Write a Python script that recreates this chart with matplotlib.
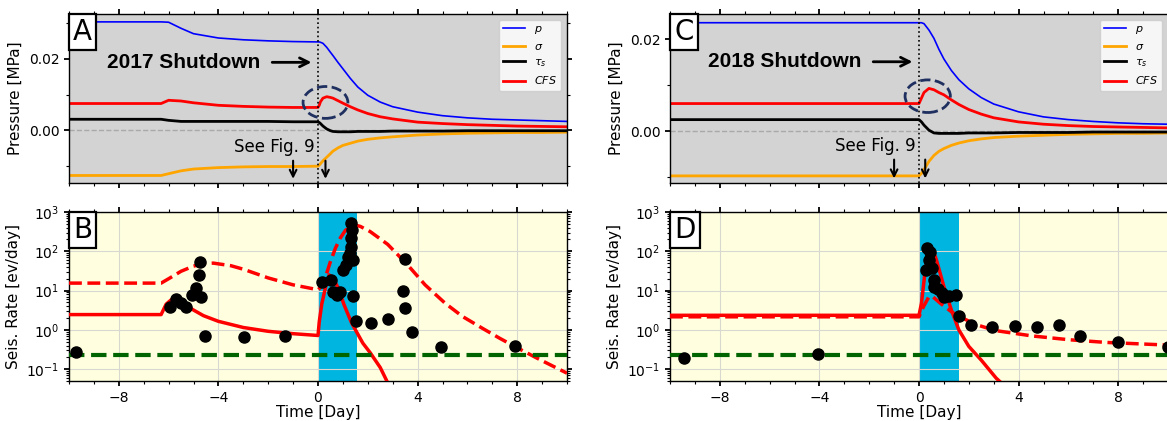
import matplotlib
matplotlib.use('Agg')
import matplotlib.pyplot as plt
from matplotlib.patches import Ellipse
from matplotlib.offsetbox import AnchoredText
from matplotlib.ticker import MultipleLocator, LogLocator, NullFormatter

# ---------------- data ----------------
# 2017 pressure components (MPa) vs time (day)
t_a = [-10, -6.3, -6.0, -5.5, -5.0, -4.0, -3.0, -2.0, -1.0, 0.0, 0.05, 0.1, 0.2, 0.35,
       0.5, 0.6, 0.8, 1.0, 1.3, 1.6, 2.0, 2.5, 3.0, 4.0, 5.0, 6.0, 7.0, 8.0, 9.0, 10.0]
p_a = [0.0303, 0.0303, 0.0302, 0.0285, 0.0270, 0.0258, 0.0253, 0.0250, 0.0248, 0.0247,
       0.0247, 0.0246, 0.0243, 0.0232, 0.0218, 0.0209, 0.0190, 0.0172, 0.0145, 0.0121,
       0.0098, 0.0079, 0.0066, 0.0051, 0.0041, 0.0035, 0.0031, 0.0029, 0.0027, 0.0025]
sig_a = [-0.0126, -0.0126, -0.0121, -0.0113, -0.0108, -0.0104, -0.0102, -0.0101, -0.0101,
         -0.0100, -0.0097, -0.0093, -0.0085, -0.0075, -0.0065, -0.0058, -0.0049, -0.0042,
         -0.0036, -0.0030, -0.0025, -0.0021, -0.0018, -0.0013, -0.0010, -0.0008, -0.0007,
         -0.0006, -0.0006, -0.0005]
tau_a = [0.0031, 0.0031, 0.0028, 0.0025, 0.0025, 0.0025, 0.0025, 0.0025, 0.0024, 0.0024,
         0.0022, 0.0019, 0.0012, 0.0004, -0.0001, -0.0003, -0.0004, -0.0004, -0.0004,
         -0.0003, -0.0003, -0.0003, -0.0002, -0.0002, -0.0002, -0.0001, -0.0001, -0.0001,
         -0.0001, -0.0001]
cfs_a = [0.0075, 0.0075, 0.0084, 0.0082, 0.0077, 0.0070, 0.0067, 0.0065, 0.0064, 0.0064,
         0.0070, 0.0080, 0.0090, 0.0094, 0.0092, 0.0090, 0.0083, 0.0076, 0.0066, 0.0057,
         0.0047, 0.0038, 0.0032, 0.0023, 0.0019, 0.0016, 0.0014, 0.0012, 0.0011, 0.0010]

# 2018 pressure components (MPa)
t_c = [-10, 0.0, 0.1, 0.2, 0.4, 0.6, 0.8, 1.0, 1.3, 1.6, 2.0, 2.5, 3.0, 4.0, 5.0, 6.0,
       7.0, 8.0, 9.0, 10.0]
p_c = [0.0236, 0.0236, 0.0236, 0.0234, 0.0220, 0.0202, 0.0178, 0.0157, 0.0132, 0.0112,
       0.0092, 0.0073, 0.0059, 0.0042, 0.0031, 0.0025, 0.0021, 0.0018, 0.0016, 0.0015]
sig_c = [-0.00975, -0.00975, -0.0092, -0.0084, -0.0066, -0.0053, -0.0044, -0.0038, -0.0031,
         -0.0026, -0.0021, -0.0017, -0.0014, -0.0011, -0.0009, -0.0007, -0.0006, -0.0005,
         -0.0005, -0.0004]
tau_c = [0.0025, 0.0025, 0.0020, 0.0013, 0.0002, -0.0004, -0.0005, -0.0005, -0.0005, -0.0005,
         -0.0004, -0.0004, -0.0004, -0.0003, -0.0003, -0.0003, -0.0002, -0.0002, -0.0002,
         -0.0002]
cfs_c = [0.0060, 0.0060, 0.0072, 0.0084, 0.0093, 0.0090, 0.0084, 0.0079, 0.0068, 0.0058,
         0.0047, 0.0037, 0.0029, 0.0020, 0.0015, 0.0012, 0.0010, 0.0009, 0.0008, 0.0007]

# 2017 seismicity rate models (ev/day)
t_b_dash = [-10, -6.3, -6.0, -5.5, -5.0, -4.5, -4.2, -3.5, -3.0, -2.0, -1.0, 0.0, 0.15, 0.3,
            0.5, 0.7, 0.9, 1.1, 1.4, 1.7, 2.1, 2.8, 3.6, 4.3, 5.1, 5.8, 6.6, 7.3, 8.0, 8.8, 10.0]
r_b_dash = [15.5, 15.5, 20, 31, 42, 49, 50, 43, 35, 21, 14, 10.5, 13, 22, 55, 120, 220, 340,
            480, 430, 316, 150, 45, 14, 4.8, 2.2, 1.1, 0.61, 0.35, 0.19, 0.079]
t_b_solid = [-10, -6.3, -6.1, -5.9, -5.6, -5.3, -5.0, -4.6, -4.0, -3.0, -2.0, -1.0, 0.0, 0.05,
             0.15, 0.3, 0.45, 0.6, 0.8, 1.05, 1.35, 1.8, 2.1, 2.5, 2.8]
r_b_solid = [2.45, 2.45, 4.5, 5.8, 5.2, 4.2, 3.2, 2.3, 1.65, 1.15, 0.92, 0.80, 0.72, 1.6,
             4.5, 12, 25, 21, 12, 4.3, 1.5, 0.46, 0.26, 0.11, 0.045]
t_b_obs = [-9.7, -5.93, -5.7, -5.5, -5.3, -5.07, -4.88, -4.78, -4.73, -4.7, -4.52, -2.96, -1.31,
           0.15, 0.52, 0.6, 0.75, 0.9, 1.0, 1.12, 1.2, 1.27, 1.34, 1.34, 1.37, 1.34, 1.4, 1.42,
           1.54, 2.14, 2.8, 3.43, 3.5, 3.5, 3.78, 4.93, 7.9]
r_b_obs = [0.28, 3.8, 6.0, 4.8, 3.9, 7.8, 11.5, 25, 54, 6.8, 0.68, 0.65, 0.68,
           17, 18.6, 9.4, 7.8, 9.4, 33, 45, 73, 89, 130, 215, 350, 530, 60, 7.3,
           1.7, 1.48, 1.87, 9.8, 63, 3.7, 0.89, 0.36, 0.39]

# 2018 seismicity rate models (ev/day)
t_d_solid = [-10, 0.0, 0.1, 0.25, 0.4, 0.47, 0.55, 0.7, 1.0, 1.3, 1.6, 2.0, 2.5, 3.1, 3.3]
r_d_solid = [2.35, 2.35, 4.8, 33, 108, 130, 115, 60, 12.6, 3.2, 1.0, 0.38, 0.17, 0.059, 0.045]
t_d_dash = [-10, 0.0, 0.18, 0.4, 0.55, 0.7, 0.85, 1.3, 1.6, 2.33, 3.07, 4.55, 6.04, 7.5, 10.0]
r_d_dash = [2.15, 2.15, 3.9, 7.0, 7.0, 5.8, 4.8, 2.9, 2.2, 1.34, 0.96, 0.70, 0.56, 0.48, 0.41]
t_d_obs = [-9.42, -4.05, 0.33, 0.43, 0.28, 0.4, 0.52, 0.62, 0.62, 0.77, 0.92, 1.02, 1.22, 1.48,
           1.59, 2.1, 2.92, 3.86, 4.73, 5.62, 6.45, 8.0, 10.0]
r_d_obs = [0.198, 0.245, 119, 98, 33, 60, 37, 18.7, 12.6, 10.8, 8.5, 6.8, 7.3, 7.8,
           2.27, 1.34, 1.17, 1.26, 1.17, 1.34, 0.70, 0.50, 0.36]

background_rate = 0.227
stimulation_end = [1.57, 1.59]
panel_letters = ['A', 'B', 'C', 'D']
shutdown_labels = ['2017 Shutdown', '2018 Shutdown']

# ---------------- figure ----------------
W, H = 1167, 421
fig = plt.figure(figsize=(W / 100, H / 100), dpi=100)
plt.rcParams['font.family'] = ['DejaVu Sans']


def rect(x0, y0, x1, y1):
    return [x0 / W, 1 - y1 / H, (x1 - x0) / W, (y1 - y0) / H]


ax_a = fig.add_axes(rect(69, 14, 567, 183))
ax_b = fig.add_axes(rect(69, 212, 567, 381))
ax_c = fig.add_axes(rect(670, 14, 1168, 183))
ax_d = fig.add_axes(rect(670, 212, 1168, 381))


def style_ticks(ax):
    ax.tick_params(which='both', top=True, right=True, direction='out', labelsize=10)
    ax.tick_params(which='major', width=1.3)
    ax.tick_params(which='minor', width=0.8)
    ax.xaxis.set_major_locator(MultipleLocator(4))
    ax.xaxis.set_minor_locator(MultipleLocator(1))
    for s in ax.spines.values():
        s.set_linewidth(1.0)


def letter(ax, s):
    at = AnchoredText(s, loc='upper left', frameon=True, pad=0.15, borderpad=0.0,
                      prop=dict(size=20))
    at.patch.set_boxstyle('square', pad=0)
    at.patch.set_edgecolor('k')
    at.patch.set_linewidth(1.6)
    at.set_zorder(6)
    ax.add_artist(at)


def pressure_panel(ax, t, p, sig, tau, cfs, ylim, label, name, txt_y, see_y, arr_top,
                   arr_x, ell):
    ax.set_facecolor('lightgray')
    ax.axhline(0, color='darkgray', ls='--', lw=1, zorder=1)
    ax.plot(t, p, color='blue', lw=1.2, label='$p$')
    ax.plot(t, sig, color='orange', lw=2, label=r'$\sigma$')
    ax.plot(t, tau, color='black', lw=2, label=r'$\tau_s$')
    ax.plot(t, cfs, color='red', lw=2, label='$CFS$')
    ax.axvline(0, color='k', ls=':', lw=1.2)
    ax.set_xlim(-10, 10)
    ax.set_ylim(*ylim)
    ax.yaxis.set_major_locator(MultipleLocator(0.02))
    ax.yaxis.set_minor_locator(MultipleLocator(0.01))
    ax.yaxis.set_major_formatter(plt.FormatStrFormatter('%.2f'))
    style_ticks(ax)
    ax.tick_params(labelbottom=False)
    ax.set_ylabel('Pressure [MPa]', fontsize=11)
    ax.legend(loc='upper right', fontsize=8)
    ax.text(-5.4, txt_y, label, fontsize=15, fontweight='bold',
            family='Liberation Sans', ha='center', va='center')
    ax.annotate('', xy=(-0.15, txt_y), xytext=(-1.95, txt_y),
                arrowprops=dict(arrowstyle='->', lw=2, color='k', mutation_scale=16))
    ax.text(-0.15, see_y, 'See Fig. 9', fontsize=12, ha='right', va='center')
    for x in arr_x:
        ax.annotate('', xy=(x, ylim[0] + 0.0004), xytext=(x, arr_top),
                    arrowprops=dict(arrowstyle='->', lw=1.5, color='k', mutation_scale=12))
    ax.add_patch(Ellipse(ell[:2], ell[2], ell[3], fill=False, ls='--', lw=2,
                         edgecolor='#1f3060', zorder=5))
    letter(ax, name)


def rate_panel(ax, t_s, r_s, t_dsh, r_dsh, t_o, r_o, t_end, name):
    ax.set_facecolor('lightyellow')
    ax.set_yscale('log')
    ax.grid(True, which='major', color='#d8d8d0', lw=0.8)
    ax.axvspan(0, t_end, color='#00b5e0', zorder=1, lw=0)
    ax.plot(t_dsh, r_dsh, color='red', ls='--', lw=2.5, zorder=3)
    ax.plot(t_s, r_s, color='red', lw=2.5, zorder=3)
    ax.axhline(background_rate, color='darkgreen', ls='--', lw=3, zorder=3)
    ax.plot(t_o, r_o, 'o', color='black', ms=8, zorder=4)
    ax.set_xlim(-10, 10)
    ax.set_ylim(0.05, 1000)
    ax.yaxis.set_major_locator(LogLocator(base=10, numticks=10))
    ax.yaxis.set_minor_locator(LogLocator(base=10, subs=range(2, 10), numticks=10))
    ax.yaxis.set_minor_formatter(NullFormatter())
    style_ticks(ax)
    ax.set_xlabel('Time [Day]', fontsize=11, labelpad=0)
    ax.set_ylabel('Seis. Rate [ev/day]', fontsize=11)
    letter(ax, name)


pressure_panel(ax_a, t_a, p_a, sig_a, tau_a, cfs_a, (-0.0147, 0.0325), shutdown_labels[0],
               panel_letters[0], 0.019, -0.0046, -0.0077, [-1.0, 0.3],
               (0.3, 0.0078, 1.8, 0.0089))
pressure_panel(ax_c, t_c, p_c, sig_c, tau_c, cfs_c, (-0.0113, 0.0255), shutdown_labels[1],
               panel_letters[2], 0.0151, -0.0032, -0.0056, [-1.0, 0.25],
               (0.35, 0.0076, 1.82, 0.0071))
rate_panel(ax_b, t_b_solid, r_b_solid, t_b_dash, r_b_dash, t_b_obs, r_b_obs,
           stimulation_end[0], panel_letters[1])
rate_panel(ax_d, t_d_solid, r_d_solid, t_d_dash, r_d_dash, t_d_obs, r_d_obs,
           stimulation_end[1], panel_letters[3])

fig.savefig('out.png', dpi=100)
